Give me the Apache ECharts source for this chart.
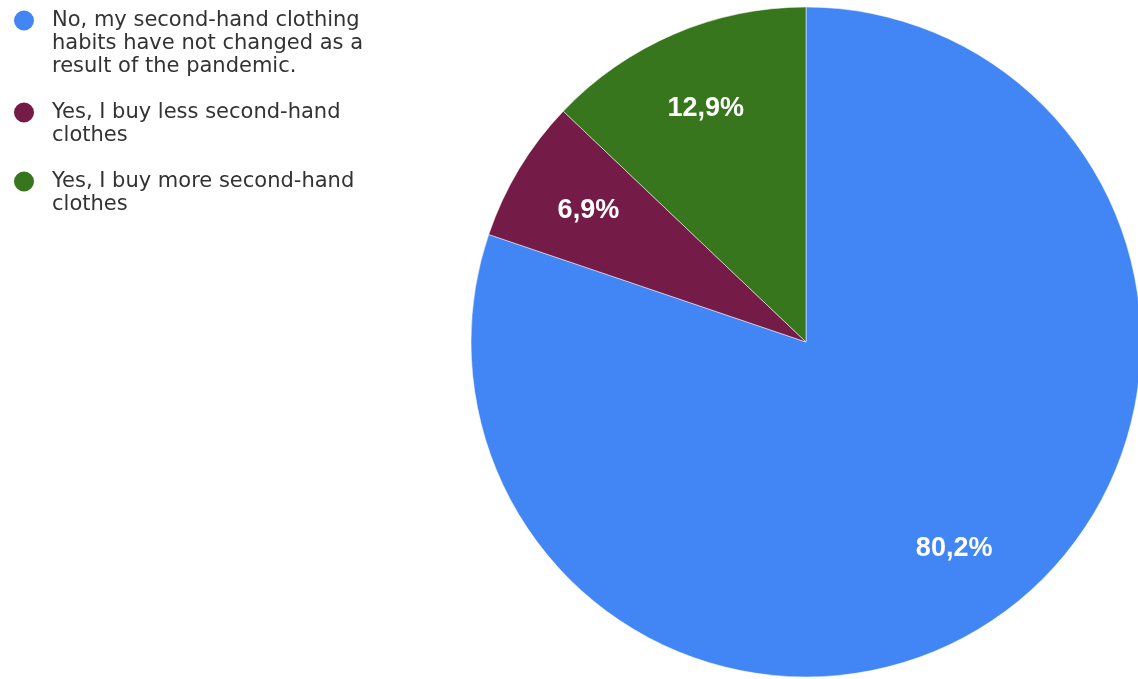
<!DOCTYPE html>
<html>
<head>
<meta charset="utf-8">
<script src="https://cdn.jsdelivr.net/npm/echarts@6/dist/echarts.min.js"></script>
<style>
  html, body { margin: 0; padding: 0; background: #ffffff; }
  #chart { width: 1138px; height: 679px; }
</style>
</head>
<body>
<div id="chart"></div>
<script>
// Survey answers: did the pandemic change second-hand clothing habits?
const categories = [
  'No, my second-hand clothing\nhabits have not changed as a\nresult of the pandemic.',
  'Yes, I buy less second-hand\nclothes',
  'Yes, I buy more second-hand\nclothes'
];
const shares = [80.2, 6.9, 12.9];
const colors = ['#4285f4', '#741b47', '#38761d'];

const LINE_H = 23;
const LEGEND_FONT = '"DejaVu Sans", "Liberation Sans", Arial, sans-serif';
const LABEL_FONT = '"Liberation Sans", Arial, sans-serif';

const pieData = categories.map((name, i) => ({ name, value: shares[i] }));

// Legend text is vertically centred on its icon, so empty lines are put
// in front of a wrapped label to bring its first line level with the dot.
const legendFormatter = (name) => {
  const lines = name.split('\n').length;
  return '\n'.repeat(lines - 1) + name;
};

const pctLabel = (p) => p.value.toFixed(1).replace('.', ',') + '%';

const chart = echarts.init(document.getElementById('chart'), null, { renderer: 'canvas' });
chart.setOption({
  animation: false,
  color: colors,
  legend: {
    orient: 'vertical',
    left: 12,
    top: -37,
    padding: 0,
    itemGap: 0,
    itemWidth: 22,
    itemHeight: 22,
    icon: 'circle',
    data: categories,
    formatter: legendFormatter,
    textStyle: {
      fontFamily: LEGEND_FONT,
      fontSize: 21,
      lineHeight: LINE_H,
      color: '#333333',
      padding: [0, 0, 0, 12]
    }
  },
  series: [
    {
      type: 'pie',
      center: [806, 342],
      radius: [0, 335],
      startAngle: 90,
      clockwise: true,
      data: pieData,
      itemStyle: { borderColor: '#ffffff', borderWidth: 0.5 },
      label: { show: false },
      labelLine: { show: false },
      emphasis: { scale: false }
    },
    {
      // label ring: places the percentages three quarters of the way out
      type: 'pie',
      center: [806, 342],
      radius: [167.5, 335],
      startAngle: 90,
      clockwise: true,
      silent: true,
      data: pieData,
      itemStyle: { color: 'transparent' },
      label: {
        show: true,
        position: 'inside',
        formatter: pctLabel,
        color: '#ffffff',
        fontFamily: LABEL_FONT,
        fontSize: 27,
        fontWeight: 'bold'
      },
      labelLine: { show: false },
      emphasis: { disabled: true }
    }
  ]
});
</script>
</body>
</html>
